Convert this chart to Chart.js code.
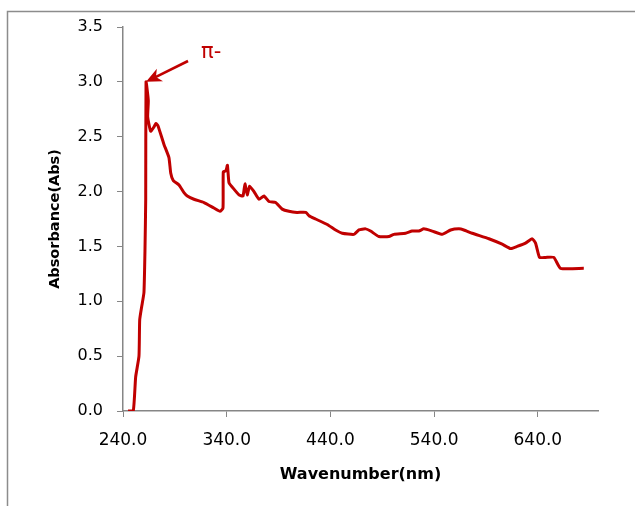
<!DOCTYPE html>
<html>
<head>
<meta charset="utf-8">
<script src="https://cdn.jsdelivr.net/npm/chart.js@4/dist/chart.umd.min.js"></script>
<style>
  body { margin: 0; background: #fff; overflow: hidden; }
  #wrap { width: 635px; height: 506px; position: relative; }
</style>
</head>
<body>
<div id="wrap"><canvas id="grafico"></canvas></div>
<script>
// wavelength (nm) and absorbance
const longitudes = [244.8, 249.9, 252.2, 255.4, 256.1, 258.0, 260.2, 261.2, 261.9, 262.2,
    264.4, 263.8, 266.7, 269.9, 271.8, 273.7, 279.5, 284.3, 286.0, 288.5,
    294.0, 298.8, 302.0, 308.4, 318.1, 327.7, 333.5, 336.4, 336.7, 339.3,
    340.7, 342.2, 345.4, 351.8, 355.7, 357.6, 359.8, 362.1, 366.3, 371.1,
    375.9, 380.7, 387.2, 393.5, 400.0, 407.7, 416.4, 419.3, 425.7, 436.9,
    445.0, 451.4, 462.7, 467.5, 473.9, 478.7, 486.7, 496.4, 501.2, 512.5,
    518.8, 525.3, 530.1, 538.1, 547.8, 555.9, 563.9, 568.7, 576.7, 592.8,
    605.6, 613.7, 620.0, 628.1, 634.5, 637.8, 641.6, 647.4, 655.4, 661.9, 684.3];
const absorbancias = [0.00, 0.00, 0.31, 0.50, 0.83, 0.95, 1.08, 1.47, 1.93, 3.00,
    2.83, 2.68, 2.55, 2.59, 2.62, 2.60, 2.43, 2.31, 2.17, 2.10,
    2.06, 1.99, 1.96, 1.93, 1.90, 1.85, 1.82, 1.85, 2.18, 2.19,
    2.24, 2.08, 2.04, 1.97, 1.96, 2.07, 1.97, 2.05, 2.00, 1.93,
    1.96, 1.91, 1.90, 1.84, 1.82, 1.81, 1.81, 1.78, 1.75, 1.70,
    1.65, 1.62, 1.61, 1.65, 1.66, 1.64, 1.59, 1.59, 1.61, 1.62,
    1.64, 1.64, 1.66, 1.64, 1.61, 1.65, 1.66, 1.65, 1.62, 1.57,
    1.52, 1.48, 1.50, 1.53, 1.57, 1.53, 1.40, 1.40, 1.40, 1.30, 1.30];
const ticksX = [240, 340, 440, 540, 640];
const ticksY = [0, 0.5, 1.0, 1.5, 2.0, 2.5, 3.0, 3.5];

const rojo = '#C00000';
const gris = '#868686';

// marco gris (solo arriba e izquierda quedan dentro de la imagen)
const marco = {
    id: 'marco',
    beforeDraw(chart) {
        const ctx = chart.ctx;
        ctx.save();
        ctx.fillStyle = '#fff';
        ctx.fillRect(0, 0, chart.width, chart.height);
        ctx.strokeStyle = '#8c8c8c';
        ctx.lineWidth = 1.5;
        ctx.beginPath();
        ctx.moveTo(7.5, chart.height + 5);
        ctx.lineTo(7.5, 11.5);
        ctx.lineTo(chart.width + 5, 11.5);
        ctx.stroke();
        ctx.restore();
    }
};

// flecha con la etiqueta del pico
const flecha = {
    id: 'flecha',
    afterDatasetsDraw(chart) {
        const xs = chart.scales.x, ys = chart.scales.y;
        const punta = [xs.getPixelForValue(262.2), ys.getPixelForValue(3.0)];
        const cola = [xs.getPixelForValue(302.7), ys.getPixelForValue(3.19)];
        const ang = Math.atan2(punta[1] - cola[1], punta[0] - cola[0]);
        const largo = 17, abre = 0.42;
        const ctx = chart.ctx;
        ctx.save();
        ctx.strokeStyle = rojo;
        ctx.fillStyle = rojo;
        ctx.lineWidth = 2.6;
        ctx.beginPath();
        ctx.moveTo(cola[0], cola[1]);
        ctx.lineTo(punta[0] - Math.cos(ang) * 10, punta[1] - Math.sin(ang) * 10);
        ctx.stroke();
        ctx.beginPath();
        ctx.moveTo(punta[0], punta[1]);
        ctx.lineTo(punta[0] - largo * Math.cos(ang - abre), punta[1] - largo * Math.sin(ang - abre));
        ctx.lineTo(punta[0] - largo * 0.65 * Math.cos(ang), punta[1] - largo * 0.65 * Math.sin(ang));
        ctx.lineTo(punta[0] - largo * Math.cos(ang + abre), punta[1] - largo * Math.sin(ang + abre));
        ctx.closePath();
        ctx.fill();
        ctx.font = '21px "DejaVu Sans"';
        ctx.textAlign = 'left';
        ctx.textBaseline = 'middle';
        ctx.fillText('π-', xs.getPixelForValue(315.2), ys.getPixelForValue(3.27));
        ctx.restore();
    }
};

new Chart(document.getElementById('grafico'), {
    type: 'line',
    data: {
        datasets: [{
            data: longitudes.map((x, i) => ({ x: x, y: absorbancias[i] })),
            borderColor: rojo,
            borderWidth: 3,
            pointRadius: 0,
            tension: 0.15,
            fill: false
        }]
    },
    options: {
        responsive: true,
        maintainAspectRatio: false,
        animation: false,
        layout: { padding: { top: 27, right: 37, left: 0, bottom: 0 } },
        plugins: { legend: { display: false }, tooltip: { enabled: false } },
        scales: {
            x: {
                type: 'linear',
                min: 240,
                max: 698,
                afterBuildTicks: (scale) => { scale.ticks = ticksX.map(v => ({ value: v })); },
                afterFit: (scale) => { scale.height = 95; },
                grid: { display: true, drawOnChartArea: false, drawTicks: true, tickLength: 6, color: gris },
                border: { color: gris, width: 1.5 },
                ticks: {
                    color: '#000',
                    padding: 13,
                    maxRotation: 0,
                    font: { family: 'DejaVu Sans', size: 17 },
                    callback: (v) => Number(v).toFixed(1)
                },
                title: {
                    display: true,
                    text: 'Wavenumber(nm)',
                    color: '#000',
                    font: { family: 'DejaVu Sans', size: 16, weight: 'bold' },
                    padding: { top: 0, bottom: 22 }
                }
            },
            y: {
                min: 0,
                max: 3.5,
                afterBuildTicks: (scale) => { scale.ticks = ticksY.map(v => ({ value: v })); },
                afterFit: (scale) => { scale.width = 123; },
                grid: { display: true, drawOnChartArea: false, drawTicks: true, tickLength: 6, color: gris },
                border: { color: gris, width: 1.5 },
                ticks: {
                    color: '#000',
                    padding: 14,
                    font: { family: 'DejaVu Sans', size: 16 },
                    callback: (v) => Number(v).toFixed(1)
                },
                title: {
                    display: true,
                    text: 'Absorbance(Abs)',
                    color: '#000',
                    font: { family: 'DejaVu Sans', size: 14.5, weight: 'bold' },
                    padding: { top: 47, bottom: 0 }
                }
            }
        }
    },
    plugins: [marco, flecha]
});
</script>
</body>
</html>
